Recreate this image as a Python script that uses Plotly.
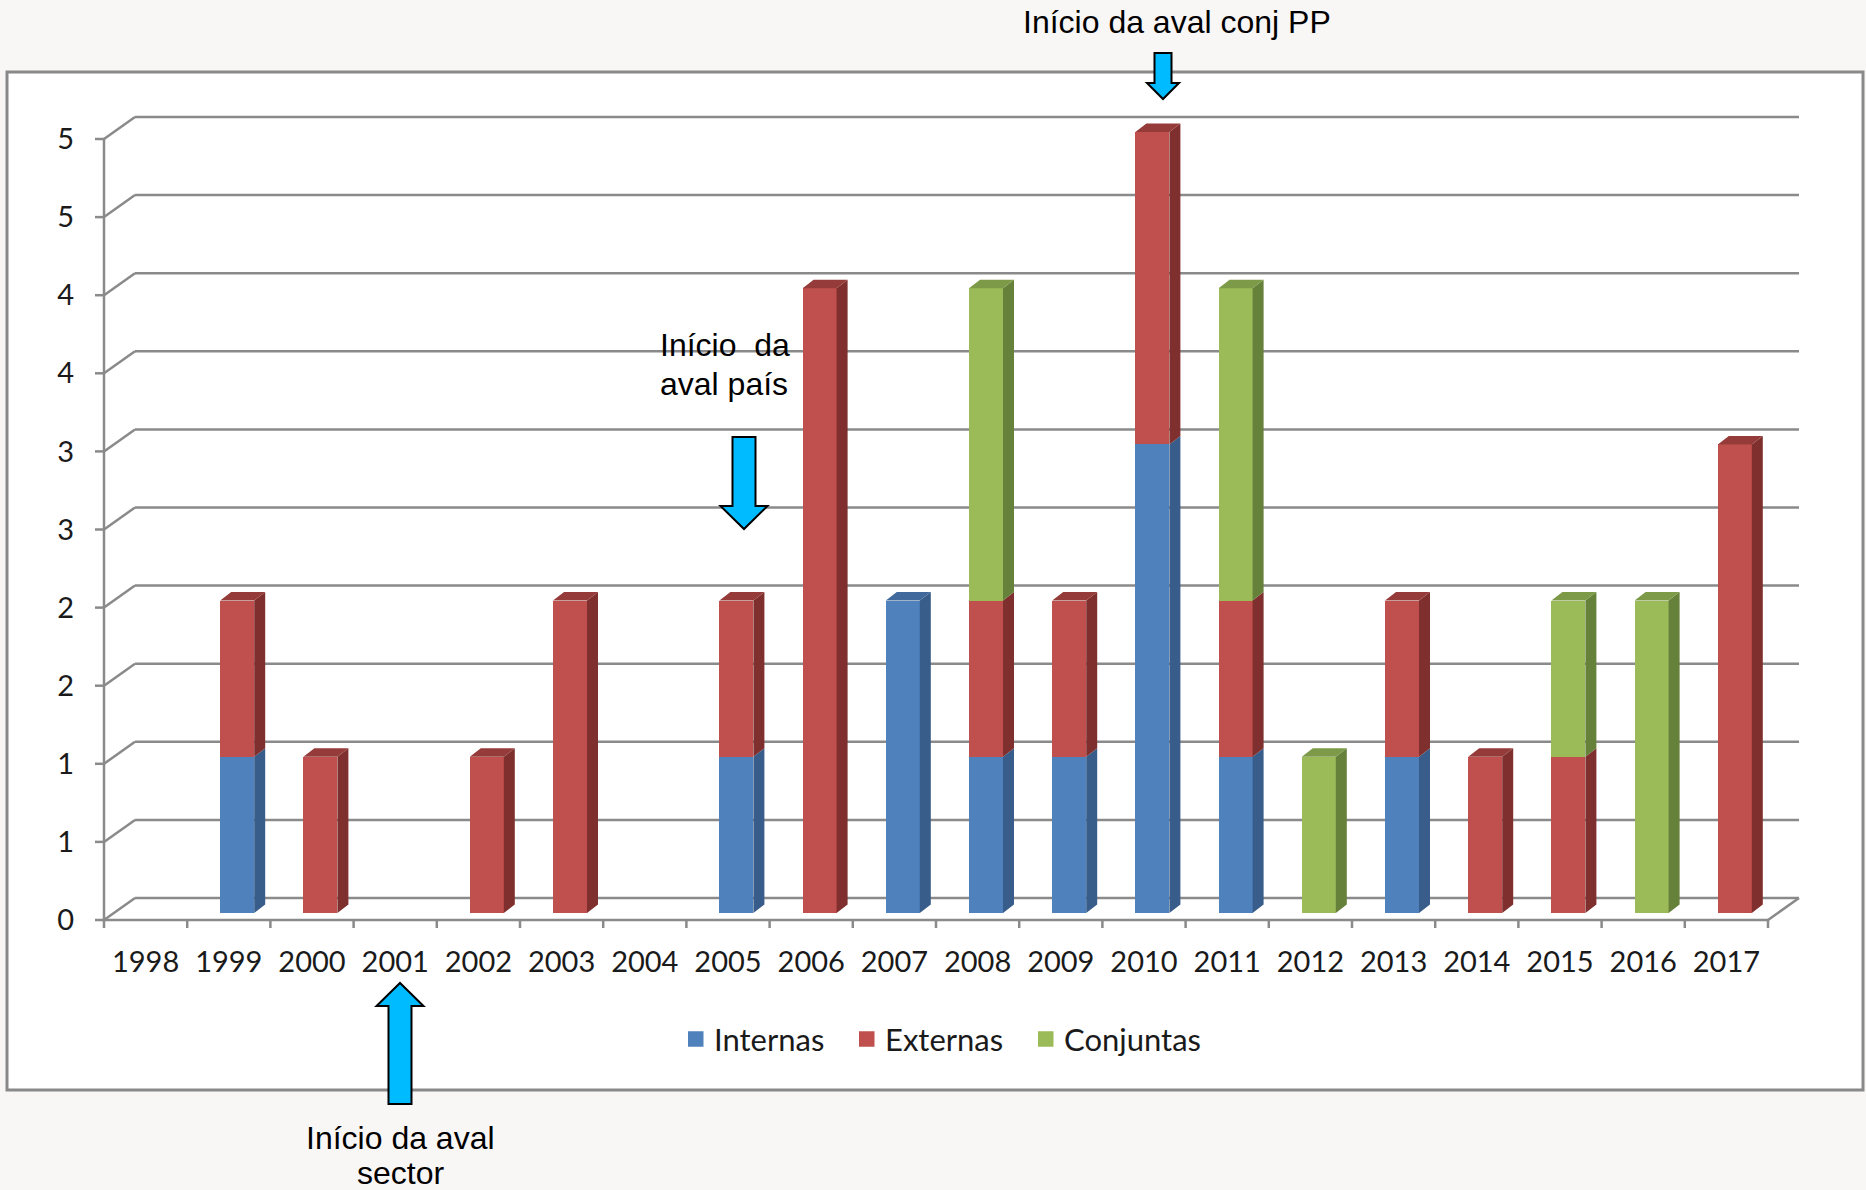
import plotly.graph_objects as go

# ---------------- data ----------------
years = ["1998", "1999", "2000", "2001", "2002", "2003", "2004", "2005", "2006", "2007",
         "2008", "2009", "2010", "2011", "2012", "2013", "2014", "2015", "2016", "2017"]
internas = [0, 1, 0, 0, 0, 0, 0, 1, 0, 2, 1, 1, 3, 1, 0, 1, 0, 0, 0, 0]
externas = [0, 1, 1, 0, 1, 2, 0, 1, 4, 0, 1, 1, 2, 1, 0, 1, 1, 1, 0, 3]
conjuntas = [0, 0, 0, 0, 0, 0, 0, 0, 0, 0, 2, 0, 0, 2, 1, 0, 0, 1, 2, 0]
series_names = ["Internas", "Externas", "Conjuntas"]
y_tick_values = [0, 0.5, 1, 1.5, 2, 2.5, 3, 3.5, 4, 4.5, 5]
y_tick_labels = ["0", "1", "1", "2", "2", "3", "3", "4", "4", "5", "5"]

# ---------------- styling / geometry ----------------
FRONT = ["#4F81BD", "#C0504D", "#9BBB59"]
SIDE = ["#385D8A", "#7F302E", "#66813A"]
TOP = ["#41699B", "#953C3A", "#7D9A48"]
GRID = "#8a8a8a"

W, H = 1866, 1190
ML, MR, MT, MB = 93, 60, 105, 258
PLOT_W, PLOT_H = W - ML - MR, H - MT - MB
X0_PX, Y0_PX = 104.0, 920.0          # pixel of front x=-0.5 and front y=0
PX_CAT, PX_UNIT = 83.2, 156.2        # px per category and per unit
x_min = -0.5 - (X0_PX - ML) / PX_CAT
x_max = x_min + PLOT_W / PX_CAT
y_min = -((H - MB) - Y0_PX) / PX_UNIT
y_max = y_min + PLOT_H / PX_UNIT

DX, DY = 31 / PX_CAT, 22 / PX_UNIT           # back-wall depth offset
BAR_OFF = 33.0 / PX_CAT                      # bar front left from category left
BAR_W = 34 / PX_CAT
BAR_BASE = 7 / PX_UNIT
BDX, BDY = 11 / PX_CAT, 8.5 / PX_UNIT        # bar depth
N = len(years)
idx = list(range(N))


def px2paper(px, py):
    return (px - ML) / PLOT_W, ((H - MB) - py) / PLOT_H


fig = go.Figure()

# stacked front faces (bars) + side/top faces (polygons)
values = [internas, externas, conjuntas]
cum = [0.0] * N
side_polys, top_polys = [], []
for k, vals in enumerate(values):
    base = [BAR_BASE + c for c in cum]
    fig.add_trace(go.Bar(
        x=idx, y=vals, base=base, name=series_names[k],
        offset=-0.5 + BAR_OFF, width=BAR_W,
        marker=dict(color=FRONT[k], line=dict(width=0)),
        showlegend=False))
    sx, sy, tx, ty = [], [], [], []
    for i in idx:
        v = vals[i]
        if v <= 0:
            continue
        y0 = base[i]
        y1 = y0 + v
        xl = i - 0.5 + BAR_OFF
        xr = xl + BAR_W
        sx += [xr, xr + BDX, xr + BDX, xr, xr, None]
        sy += [y0, y0 + BDY, y1 + BDY, y1, y0, None]
        is_top = all(values[j][i] == 0 for j in range(k + 1, len(values)))
        if is_top:
            tx += [xl, xr, xr + BDX, xl + BDX, xl, None]
            ty += [y1, y1, y1 + BDY, y1 + BDY, y1, None]
    side_polys.append((sx, sy))
    top_polys.append((tx, ty))
    cum = [c + v for c, v in zip(cum, vals)]

for k in range(len(values)):
    sx, sy = side_polys[k]
    fig.add_trace(go.Scatter(x=sx, y=sy, mode="lines", fill="toself",
                             fillcolor=SIDE[k], line=dict(width=0, color=SIDE[k]),
                             showlegend=False, hoverinfo="skip"))
    tx, ty = top_polys[k]
    if tx:
        fig.add_trace(go.Scatter(x=tx, y=ty, mode="lines", fill="toself",
                                 fillcolor=TOP[k], line=dict(width=0, color=TOP[k]),
                                 showlegend=False, hoverinfo="skip"))

shapes = []
# outer chart box
bx0, by0 = px2paper(7, 1090)
bx1, by1 = px2paper(1863, 72)
shapes.append(dict(type="rect", xref="paper", yref="paper", x0=bx0, y0=by0, x1=bx1, y1=by1,
                   fillcolor="white", line=dict(color="#898989", width=3), layer="below"))

gl = dict(color=GRID, width=2.5)
x_left, x_right = -0.5, N - 0.5
for v in y_tick_values:
    shapes.append(dict(type="line", xref="x", yref="y", x0=x_left + DX, y0=v + DY,
                       x1=x_right + DX, y1=v + DY, line=gl, layer="below"))
    shapes.append(dict(type="line", xref="x", yref="y", x0=x_left, y0=v,
                       x1=x_left + DX, y1=v + DY, line=gl, layer="below"))
    shapes.append(dict(type="line", xref="x", yref="y", x0=x_left - 9 / PX_CAT, y0=v,
                       x1=x_left, y1=v, line=gl, layer="below"))
# front vertical axis
shapes.append(dict(type="line", xref="x", yref="y", x0=x_left, y0=0, x1=x_left,
                   y1=y_tick_values[-1], line=gl, layer="below"))
# floor front edge + right diagonal
shapes.append(dict(type="line", xref="x", yref="y", x0=x_left, y0=0, x1=x_right, y1=0,
                   line=gl, layer="below"))
shapes.append(dict(type="line", xref="x", yref="y", x0=x_right, y0=0, x1=x_right + DX, y1=DY,
                   line=gl, layer="below"))
# category tick marks
for kk in range(N + 1):
    xb = kk - 0.5
    shapes.append(dict(type="line", xref="x", yref="y", x0=xb, y0=0, x1=xb,
                       y1=-8 / PX_UNIT, line=gl, layer="below"))


# block arrows (paper coords from pixel layout)
def arrow_down(cx, top, head, tip, sw, hw):
    return [(cx - sw, top), (cx + sw, top), (cx + sw, head), (cx + hw, head), (cx, tip),
            (cx - hw, head), (cx - sw, head)]


def arrow_up(cx, bottom, head, tip, sw, hw):
    return [(cx - sw, bottom), (cx + sw, bottom), (cx + sw, head), (cx + hw, head), (cx, tip),
            (cx - hw, head), (cx - sw, head)]


def path_of(pts):
    s = ""
    for j, (px, py) in enumerate(pts):
        xp, yp = px2paper(px, py)
        s += ("M" if j == 0 else "L") + f"{xp:.5f},{yp:.5f} "
    return s + "Z"


for pts in [arrow_down(1163, 53, 83, 99, 8.5, 16),
            arrow_down(744, 437, 506, 529, 11.5, 23.5),
            arrow_up(400, 1104, 1006, 983, 11.5, 23.5)]:
    shapes.append(dict(type="path", xref="paper", yref="paper", path=path_of(pts),
                       fillcolor="#00BBFF", line=dict(color="black", width=2), layer="above"))

ann_font = dict(family="Liberation Sans, Arial, sans-serif", size=32, color="black")
annotations = []
for text, px, py, anchor in [("Início da aval conj PP", 1177, 22, "center"),
                             ("Início\u00a0 da", 658, 345, "left"),
                             ("aval país", 658, 384, "left"),
                             ("Início da aval", 400, 1138, "center"),
                             ("sector", 400, 1173, "center")]:
    xp, yp = px2paper(px, py)
    annotations.append(dict(text=text, x=xp, y=yp, xref="paper", yref="paper",
                            xanchor=anchor, yanchor="middle", showarrow=False, font=ann_font))

lab_font = dict(family="Lato, Calibri, sans-serif", size=29, color="#1a1a1a")
leg_font = dict(family="Lato, Calibri, sans-serif", size=31, color="#1a1a1a")

# legend (squares + labels) laid out below the axis
LEG_Y = 1039
LEG_SQ = 15.5
leg_square_x = [688, 859, 1038]
for k, name in enumerate(series_names):
    sx0, sy0 = px2paper(leg_square_x[k], LEG_Y + LEG_SQ / 2)
    sx1, sy1 = px2paper(leg_square_x[k] + LEG_SQ, LEG_Y - LEG_SQ / 2)
    shapes.append(dict(type="rect", xref="paper", yref="paper", x0=sx0, y0=sy0, x1=sx1, y1=sy1,
                       fillcolor=FRONT[k], line=dict(width=0), layer="above"))
    tx, ty = px2paper(leg_square_x[k] + LEG_SQ + 8, LEG_Y)
    annotations.append(dict(text=name, x=tx, y=ty, xref="paper", yref="paper",
                            xanchor="left", yanchor="middle", showarrow=False, font=leg_font))

fig.update_layout(
    width=W, height=H, autosize=False,
    margin=dict(l=ML, r=MR, t=MT, b=MB, pad=0),
    paper_bgcolor="#f9f6f6", plot_bgcolor="rgba(0,0,0,0)",
    barmode="overlay", bargap=0,
    shapes=shapes, annotations=annotations,
    showlegend=False,
    xaxis=dict(range=[x_min, x_max], tickmode="array", tickvals=idx, ticktext=years,
               showgrid=False, zeroline=False, showline=False, ticks="",
               tickfont=lab_font, ticklabelstandoff=10, fixedrange=True),
    yaxis=dict(range=[y_min, y_max], tickmode="array", tickvals=y_tick_values,
               ticktext=y_tick_labels, showgrid=False, zeroline=False, showline=False,
               ticks="", tickfont=lab_font, ticklabelstandoff=18, fixedrange=True),
)

fig.write_html("out.html")
